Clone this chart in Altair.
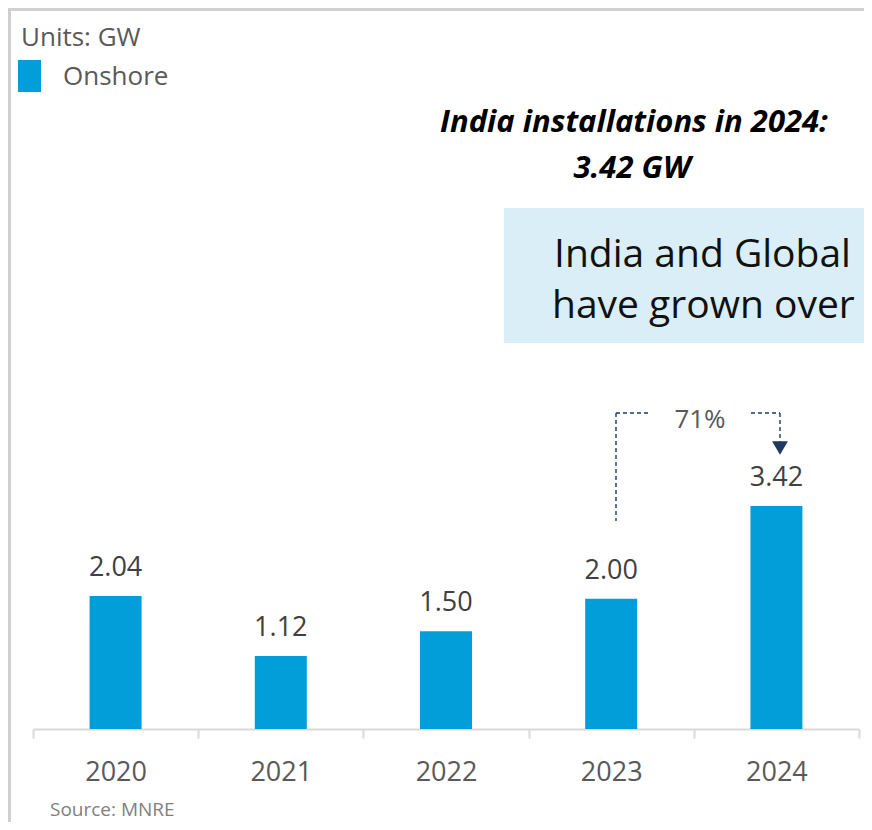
import altair as alt
import pandas as pd

# ---- data ----
years = ["2020", "2021", "2022", "2023", "2024"]
installs = [2.04, 1.12, 1.50, 2.00, 3.42]
growth_label = "71%"
units_label = "Units: GW"
series_name = "Onshore"
headline = ["India installations in 2024:", "3.42 GW"]
box_lines = ["India and Global", "have grown over"]
source_label = "Source: MNRE"

df = pd.DataFrame({"year": years, "value": installs})
one = pd.DataFrame({"k": [0]})

W, H = 826, 717
FONT = "Open Sans"
BAR = "#019ED9"
NAVY = "#1F3864"

x = alt.X(
    "year:N",
    sort=years,
    scale=alt.Scale(paddingInner=0, paddingOuter=0),
    axis=alt.Axis(
        title=None, labelAngle=0, tickBand="extent",
        domainColor="#D9D9D9", domainWidth=2,
        tickColor="#D9D9D9", tickWidth=2, tickSize=9,
        labelPadding=42, labelBaseline="alphabetic",
        labelFont=FONT, labelFontSize=27, labelColor="#595959",
    ),
)
y = alt.Y("value:Q", scale=alt.Scale(domain=[0, 11]), axis=None)

bars = alt.Chart(df).mark_bar(size=52, color=BAR).encode(x=x, y=y)
labels = alt.Chart(df).mark_text(
    dy=-20, baseline="alphabetic", fontSize=27, font=FONT, color="#404040"
).encode(x=x, y=y, text=alt.Text("value:Q", format=".2f"))


def txt(s, px, py, size, color="#595959", align="left", baseline="middle", **kw):
    return alt.Chart(one).mark_text(
        align=align, baseline=baseline, fontSize=size, font=FONT, color=color, **kw
    ).encode(x=alt.value(px), y=alt.value(py), text=alt.value(s))


def seg(x1, y1, x2, y2):
    return alt.Chart(one).mark_rule(
        strokeDash=[4, 3], color=NAVY, strokeWidth=1.4
    ).encode(x=alt.value(x1), y=alt.value(y1), x2=alt.value(x2), y2=alt.value(y2))


border = alt.Chart(one).mark_rect(
    fillOpacity=0, stroke="#D0D0D0", strokeWidth=3
).encode(x=alt.value(-23.5), y=alt.value(-2.5), x2=alt.value(W + 60), y2=alt.value(H + 160))

legend_sq = alt.Chart(one).mark_rect(color=BAR).encode(
    x=alt.value(-15), x2=alt.value(8), y=alt.value(48), y2=alt.value(80)
)

box = alt.Chart(one).mark_rect(color="#DAEEF8").encode(
    x=alt.value(471), x2=alt.value(W + 60), y=alt.value(196), y2=alt.value(331)
)

arrow = alt.Chart(one).mark_point(
    shape="triangle-down", size=250, filled=True, color=NAVY, opacity=1
).encode(x=alt.value(747), y=alt.value(436))

layers = [
    border,
    box,
    bars,
    labels,
    legend_sq,
    txt(units_label, -12, 26, 26),
    txt(series_name, 30, 65, 26),
    txt(headline[0], 601, 120, 31, color="#000000", align="center",
        baseline="alphabetic", fontStyle="italic", fontWeight="bold"),
    txt(headline[1], 599, 166, 31, color="#000000", align="center",
        baseline="alphabetic", fontStyle="italic", fontWeight="bold"),
    txt(box_lines[0], 521, 255, 39, color="#111111", baseline="alphabetic"),
    txt(box_lines[1], 519, 306, 39, color="#111111", baseline="alphabetic"),
    seg(583, 401, 583, 509),
    seg(583, 401, 617, 401),
    seg(718, 401, 747, 401),
    seg(747, 401, 747, 430),
    arrow,
    txt(growth_label, 667, 416, 26, align="center", baseline="alphabetic"),
    txt(source_label, 17, 798, 19, color="#7F7F7F"),
]

chart = alt.layer(*layers).properties(
    width=W,
    height=H,
    autosize=alt.AutoSizeParams(type="none"),
    padding={"left": 25, "top": 4, "right": 5, "bottom": 93},
).configure_view(stroke=None)

chart.save("out.html", embed_options={"renderer": "svg", "actions": False})
